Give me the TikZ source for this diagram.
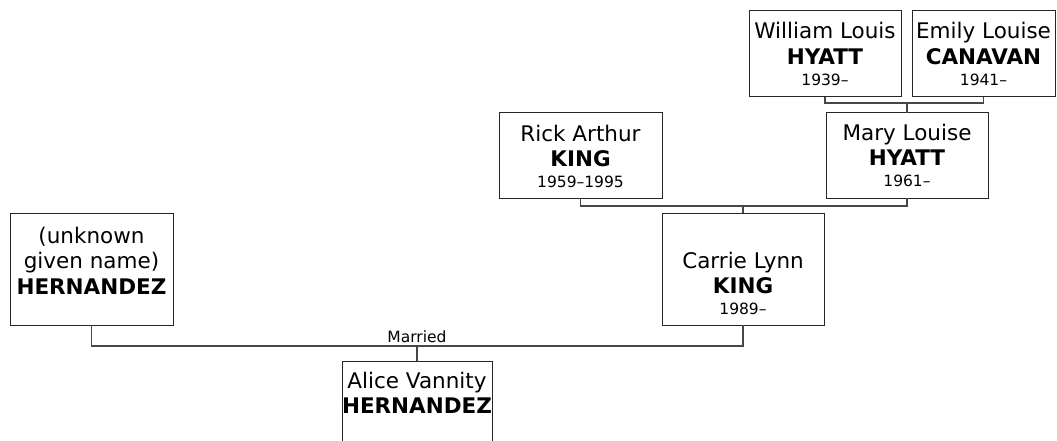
\documentclass[tikz,border=0pt]{standalone}
\usepackage{fontspec}
\setmainfont{DejaVu Sans}
\usetikzlibrary{calc}
\newcommand{\persontext}[4]{\parbox[c][#2pt][t]{#1pt}{\centering\fontsize{21.5}{25.5}\selectfont\rule{0pt}{#3pt}#4}}
\newcommand{\yrs}[1]{\\[-4.5pt]{\fontsize{15.5}{17}\selectfont #1}}
\tikzset{
  person/.style={draw=black!85,line width=1pt,inner sep=0pt,outer sep=0pt,anchor=north west},
  conn/.style={draw=black!72,line width=1.2pt},
}
\begin{document}
\begin{tikzpicture}[x=1pt,y=-1pt]
\clip (0,0) rectangle (1057,441);
\node[person] (william) at (749,11) {\persontext{152}{86}{28}{William Louis\\\textbf{HYATT}\yrs{1939–}}};
\node[person] (emily) at (912,11) {\persontext{143}{86}{28}{Emily Louise\\\textbf{CANAVAN}\yrs{1941–}}};
\node[person] (rick) at (499,113) {\persontext{163}{85}{28}{Rick Arthur\\\textbf{KING}\yrs{1959–1995}}};
\node[person] (mary) at (826,113) {\persontext{162}{85}{27}{Mary Louise\\\textbf{HYATT}\yrs{1961–}}};
\node[person] (hern) at (10,213) {\persontext{163}{112}{30}{(unknown\\given name)\\\textbf{HERNANDEZ}}};
\node[person] (carrie) at (662,213) {\persontext{162}{112}{55}{Carrie Lynn\\\textbf{KING}\yrs{1989–}}};
\node[person] (alice) at (342,361) {\persontext{150}{100}{27}{Alice Vannity\\\textbf{HERNANDEZ}}};

% parents of Mary
\draw[conn] (william.south) -- ++(0,6) coordinate (wk) -| (emily.south);
\draw[conn] (mary.north) -- (mary.north |- wk);
% parents of Carrie
\draw[conn] (rick.south) -- ++(0,8) coordinate (rk) -| (mary.south);
\draw[conn] (carrie.north) -- (carrie.north |- rk);
% marriage
\draw[conn] (hern.south) -- ++(0,21) coordinate (mk) -| (carrie.south);
\draw[conn] (alice.north) -- (alice.north |- mk);
\node[anchor=base,inner sep=0pt,font=\fontsize{15.5}{17}\selectfont] (married) at ($(alice.north |- mk)+(0,-4)$) {Married};
\end{tikzpicture}
\end{document}
